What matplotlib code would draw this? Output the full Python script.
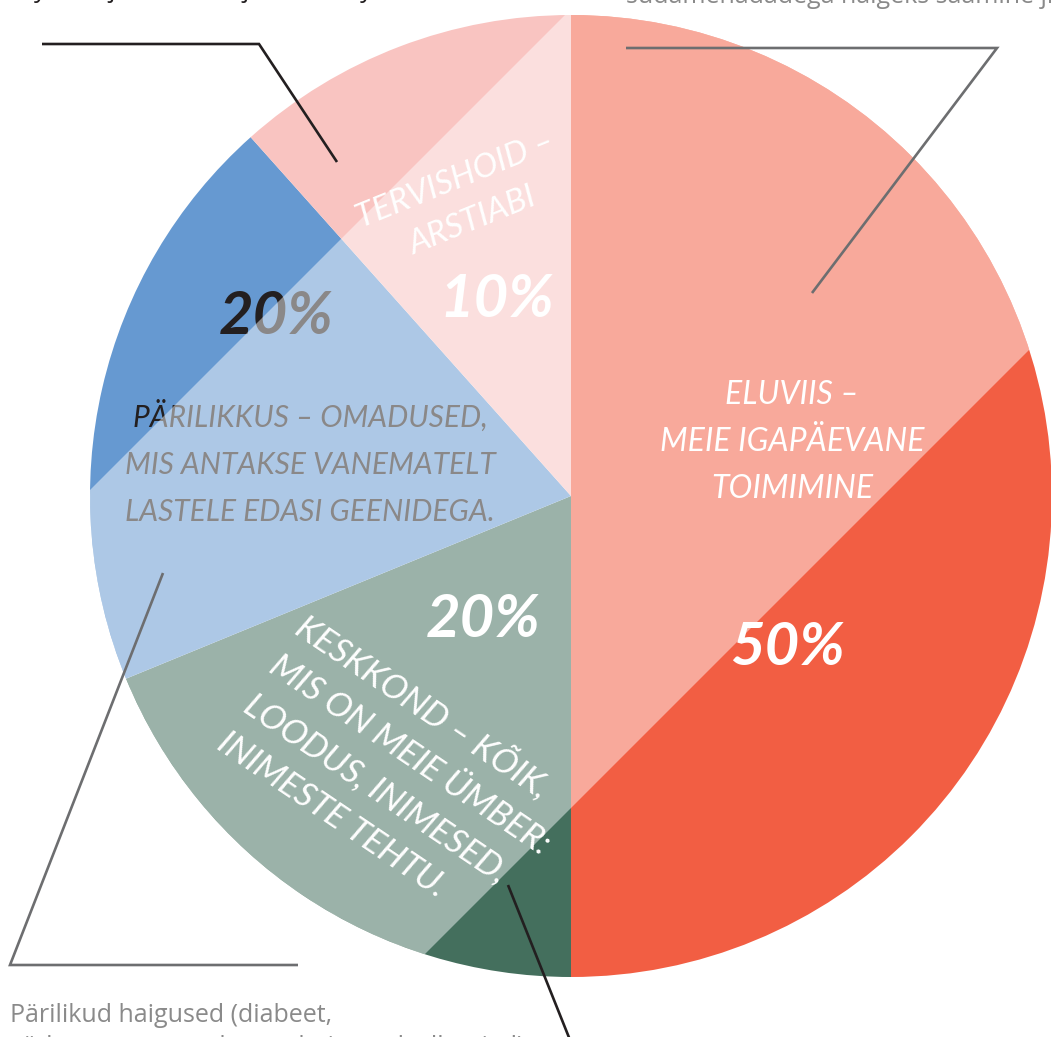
import matplotlib
matplotlib.use("Agg")

import matplotlib.pyplot as plt
from matplotlib.patches import Polygon, Circle

W, H = 1051, 1037

# sektorid (joonisel mõõdetud osakaalud, sildid on ümardatud)
osad = ["Eluviis", "Keskkond", "Pärilikkus", "Tervishoid"]
osakaal = [50, 18.8, 19.6, 11.6]
sildid = ["50%", "20%", "20%", "10%"]
varvid = ["#f25e43", "#446f5d", "#6699d1", "#f9c4c1"]

# kirjeldused
kirjeldused = [
    "ELUVIIS –\nMEIE IGAPÄEVANE\nTOIMIMINE",
    "KESKKOND – KÕIK,\nMIS ON MEIE ÜMBER:\nLOODUS, INIMESED,\nINIMESTE TEHTU.",
    "PÄRILIKKUS – OMADUSED,\nMIS ANTAKSE VANEMATELT\nLASTELE EDASI GEENIDEGA.",
    "TERVISHOID –\nARSTIABI",
]

KESK = (571, 496)  # pildi koordinaadid
R = 481
HAND = ["Lato", "DejaVu Sans"]
MUST = "#231f20"
HALL = "#6d6e70"


def Y(y):
    # pildi y (ülalt alla) -> telje y
    return H - y


fig = plt.figure(figsize=(W / 100, H / 100), dpi=100)
ax = fig.add_axes([0, 0, 1, 1])

wedges, _ = ax.pie(osakaal, colors=varvid, startangle=90, counterclock=False,
                   center=(KESK[0], Y(KESK[1])), radius=R, frame=True,
                   wedgeprops=dict(linewidth=0, zorder=1))
ax.set_xlim(0, W)
ax.set_ylim(0, H)
ax.set_aspect("equal")
ax.axis("off")

# protsendid
pos_pct = [(787, 648), (483, 620), (276, 317), (497, 300)]
pct_col = ["white", "white", MUST, "white"]
for s, (x, y), c in zip(sildid, pos_pct, pct_col):
    ax.text(x, Y(y), s, fontsize=43, fontweight="bold", fontstyle="italic",
            family=HAND, color=c, ha="center", va="center", zorder=2)

# kirjelduste paigutus
kw = dict(fontstyle="italic", family=HAND, ha="center", va="center",
          rotation_mode="anchor", zorder=2)
ax.text(792, Y(442), kirjeldused[0], color="white", fontsize=23,
        linespacing=1.72, multialignment="center", **kw)
ax.text(398, Y(773), kirjeldused[1], color="white", rotation=-34, fontsize=25,
        linespacing=1.55, multialignment="left", **kw)
ax.text(310, Y(463), kirjeldused[2], color=MUST, fontsize=21.5,
        linespacing=1.84, multialignment="center", **kw)
ax.text(464, Y(201), kirjeldused[3], color="white", rotation=22, fontsize=24,
        linespacing=1.6, multialignment="center", **kw)

# hele diagonaalne riba üle sektorite
x0, x1 = -200, W + 200
riba = Polygon([(x0, Y(580 - x0)), (x1, Y(580 - x1)),
                (x1, Y(1379 - x1)), (x0, Y(1379 - x0))],
               closed=True, facecolor="white", alpha=0.47, linewidth=0, zorder=3)
ax.add_patch(riba)
ring = Circle((KESK[0], Y(KESK[1])), R, transform=ax.transData)
riba.set_clip_path(ring)

# viitejooned
jooned = [
    ([42, 259, 337], [44, 44, 162], MUST),
    ([626, 997, 812], [48, 48, 293], HALL),
    ([163, 10, 298], [573, 965, 965], HALL),
    ([508, 570], [885, 1040], MUST),
]
for xs, ys, c in jooned:
    ax.plot(xs, [Y(v) for v in ys], color=c, linewidth=1.9, zorder=4,
            solid_joinstyle="miter", solid_capstyle="butt")

# lõigatud selgitustekstid servades
ax.text(34, Y(-3), "y, ravi ja hooldus, jõudmine y", fontsize=18,
        family="Open Sans", color=MUST, ha="left", va="baseline", zorder=5)
ax.text(626, Y(3), "südamehädadega haigeks saamine jne", fontsize=18,
        family="Open Sans", color="#8a8a8a", ha="left", va="baseline", zorder=5)
ax.text(10, Y(1022), "Pärilikud haigused (diabeet,", fontsize=18,
        family="Open Sans", color="#8a8a8a", ha="left", va="baseline", zorder=5)
ax.text(10, Y(1054), "südame-veresoonkonna haigused, allergiad)", fontsize=18,
        family="Open Sans", color="#8a8a8a", ha="left", va="baseline", zorder=5)

fig.savefig("out.png", dpi=100)
plt.close(fig)
